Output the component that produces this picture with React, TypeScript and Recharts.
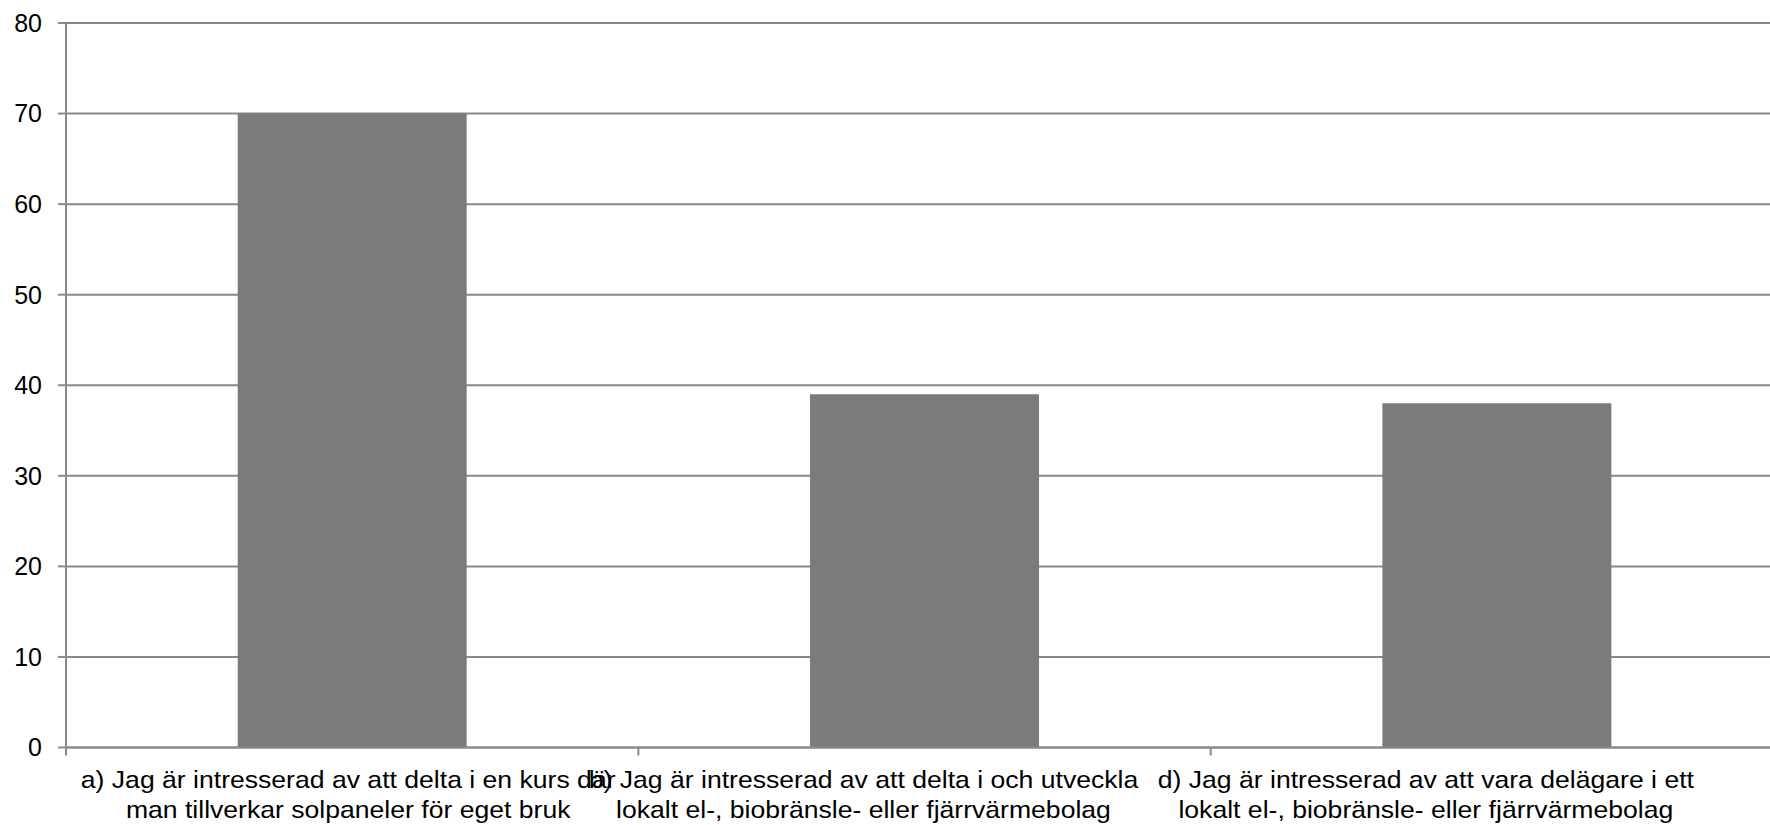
import React from 'react';
import { BarChart, Bar, XAxis, YAxis, CartesianGrid } from 'recharts';

// Survey answers, each label split over two lines
const categories = [
  'a) Jag är intresserad av att delta i en kurs där\nman tillverkar solpaneler för eget bruk',
  'b) Jag är intresserad av att delta i och utveckla\nlokalt el-, biobränsle- eller fjärrvärmebolag',
  'd) Jag är intresserad av att vara delägare i ett\nlokalt el-, biobränsle- eller fjärrvärmebolag',
];
const values = [70, 39, 38];
const yTicks = [0, 10, 20, 30, 40, 50, 60, 70, 80];

const data = categories.map((name, i) => ({ name, value: values[i] }));

const GRAY = '#898989';
const FONT = '"Liberation Sans", Arial, sans-serif';
// the original labels drift left of their bands and are drawn slightly wide
const LABEL_SHIFT = [-4, -61, -71];
const LABEL_STRETCH = 1.108;

const LabelTick = (props: any) => {
  const { x, y, payload, index } = props;
  const half = payload && payload.offset ? payload.offset : 286;
  const lines = String(payload.value).split('\n');
  const tx = x + (LABEL_SHIFT[index] || 0);
  return (
    <g>
      <line x1={x + half} x2={x + half} y1={y} y2={y + 8} stroke={GRAY} strokeWidth={2} />
      {index === 0 && <line x1={x - half} x2={x - half} y1={y} y2={y + 8} stroke={GRAY} strokeWidth={2} />}
      <g transform={`translate(${tx} 0) scale(${LABEL_STRETCH} 1)`}>
        <text textAnchor="middle" fontSize={24} fontFamily={FONT} fill="#000">
          <tspan x={0} y={y + 40.5}>{lines[0]}</tspan>
          <tspan x={0} y={y + 70.5}>{lines[1]}</tspan>
        </text>
      </g>
    </g>
  );
};

export default function App() {
  return (
    <div style={{ position: 'absolute', left: 0, top: 0, width: 1770, height: 825, overflow: 'hidden', background: '#fff' }}>
      <BarChart
        width={1783}
        height={825}
        data={data}
        margin={{ top: 23, right: 0, bottom: 0, left: 0 }}
        barCategoryGap="30%"
        style={{ fontFamily: FONT }}
      >
        <CartesianGrid vertical={false} stroke={GRAY} strokeWidth={2} />
        <XAxis
          dataKey="name"
          height={77.5}
          interval={0}
          tickLine={false}
          tickSize={0}
          tickMargin={0}
          axisLine={{ stroke: GRAY, strokeWidth: 2 }}
          tick={<LabelTick />}
        />
        <YAxis
          width={66}
          domain={[0, 80]}
          ticks={yTicks}
          interval={0}
          tickSize={8}
          tickMargin={16}
          tickLine={{ stroke: GRAY, strokeWidth: 2 }}
          axisLine={{ stroke: GRAY, strokeWidth: 2 }}
          tick={{ fill: '#000', fontSize: 25, fontFamily: FONT }}
        />
        <Bar dataKey="value" fill="#7b7b7b" isAnimationActive={false} />
      </BarChart>
    </div>
  );
}
